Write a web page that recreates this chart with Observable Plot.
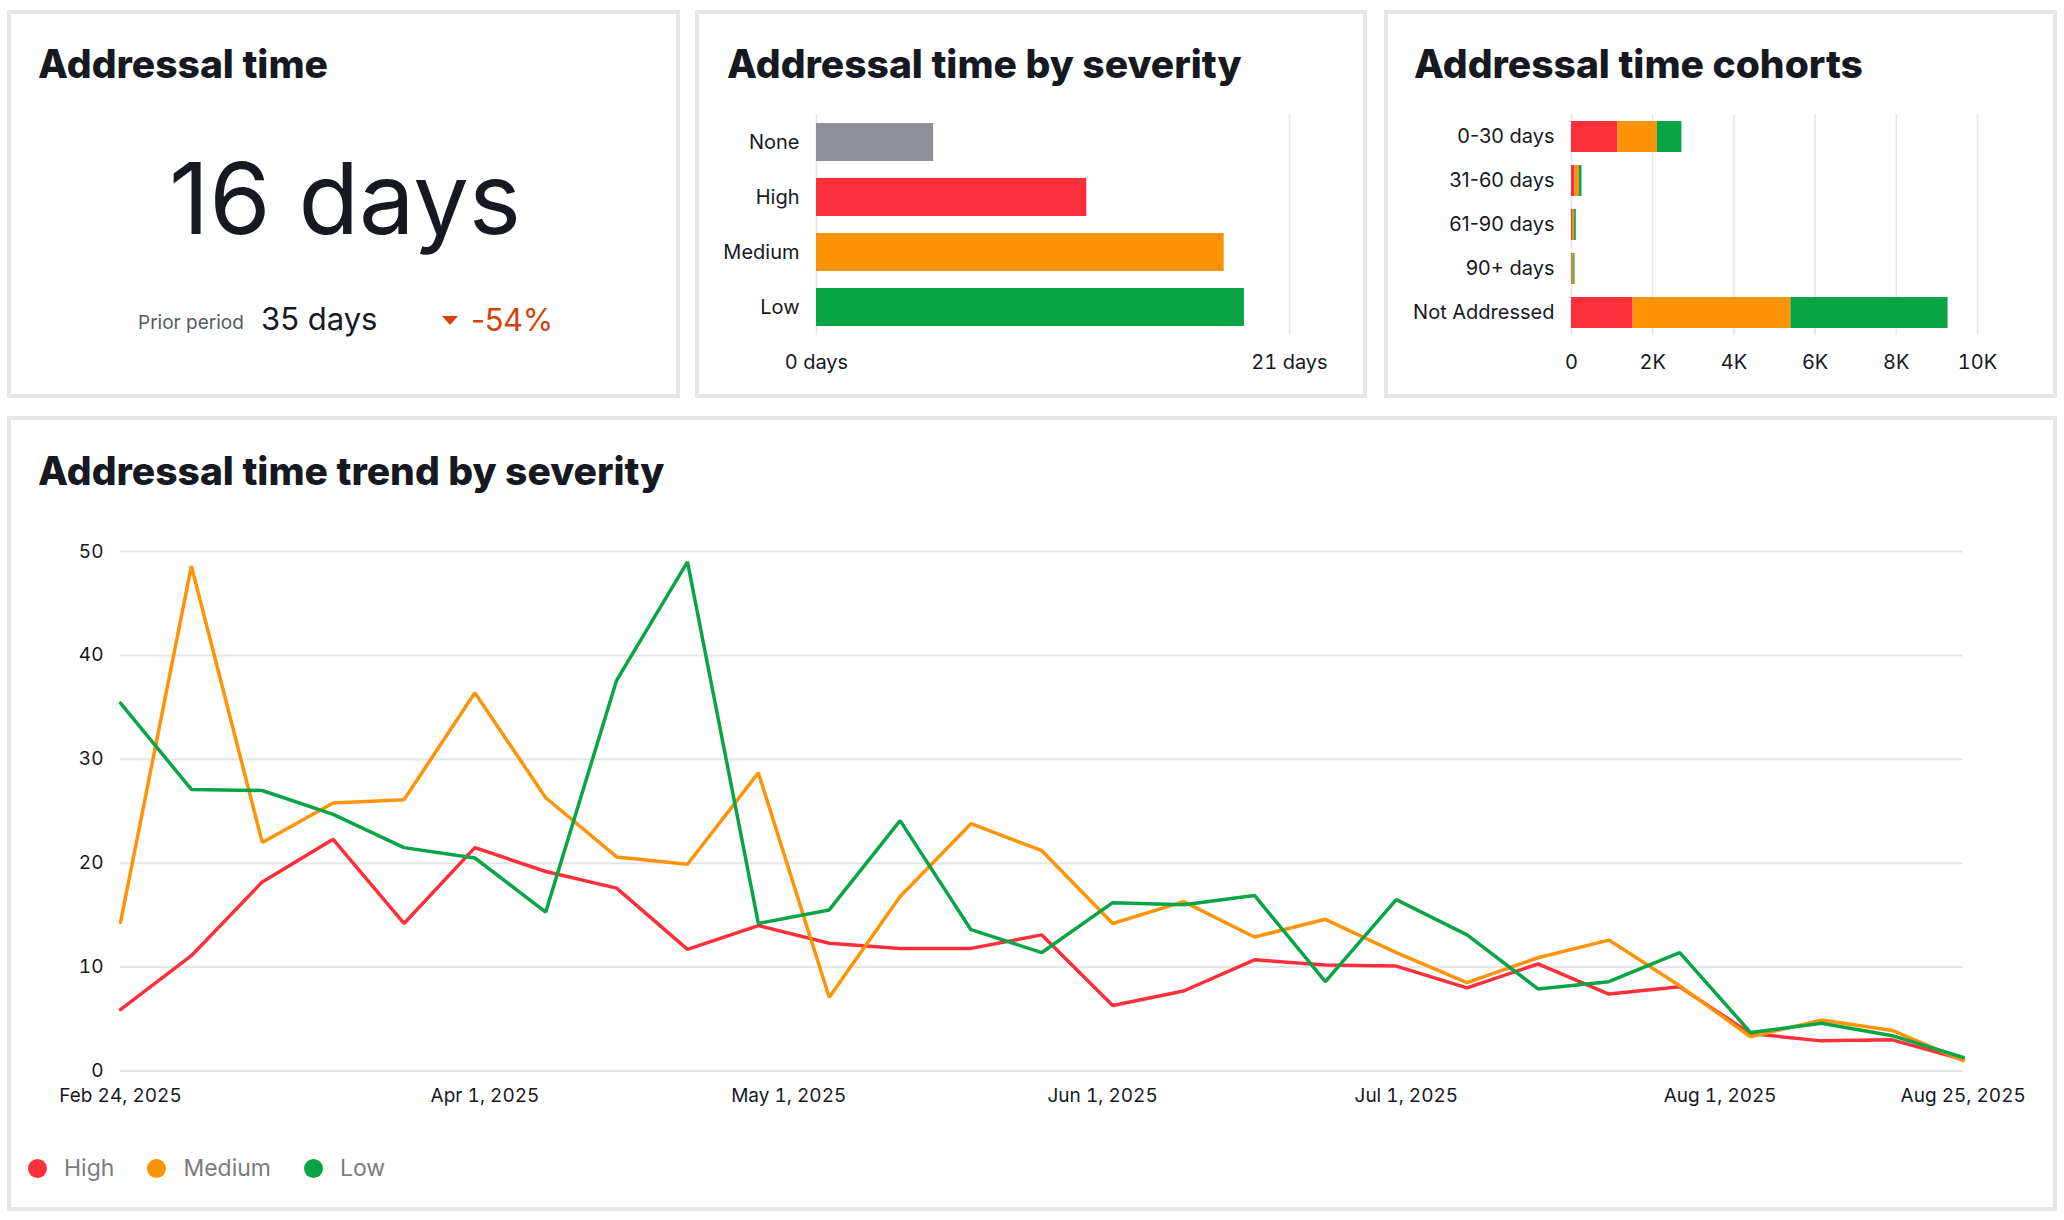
<!DOCTYPE html>
<html><head><meta charset="utf-8">
<script src="https://cdn.jsdelivr.net/npm/d3@7"></script>
<script src="https://cdn.jsdelivr.net/npm/@observablehq/plot@0.6"></script>
<style>
html,body{margin:0;padding:0;background:#fff;}
body{width:2064px;height:1220px;position:relative;overflow:hidden;font-family:Inter,"Noto Sans",sans-serif;color:#16191f;}
.panel{position:absolute;box-sizing:border-box;border:4px solid #e6e6e6;background:#fff;}
.abs{position:absolute;white-space:nowrap;line-height:1;}
.title{font-weight:800;font-size:39px;letter-spacing:0px;color:#16191f;}
.plot{position:absolute;}
.legend{position:absolute;left:28px;top:1154px;height:28px;display:flex;align-items:center;font-size:23px;color:#7b7b7b;}
.legend .dot{width:19px;height:19px;border-radius:50%;margin-right:17px;}
.legend .lab{margin-right:33px;}
</style></head><body>
<div class="panel" style="left:7px;top:10px;width:673px;height:388px;"></div>
<div class="panel" style="left:695px;top:10px;width:672px;height:388px;"></div>
<div class="panel" style="left:1384px;top:10px;width:673px;height:388px;"></div>
<div class="panel" style="left:7px;top:416px;width:2050px;height:795px;"></div>

<div class="abs title" style="left:38px;top:44px;">Addressal time</div>
<div class="abs title" style="left:727px;top:44px;">Addressal time by severity</div>
<div class="abs title" style="left:1414px;top:44px;">Addressal time cohorts</div>
<div class="abs title" style="left:38px;top:451px;">Addressal time trend by severity</div>

<div class="abs" id="kpi" style="left:345px;top:149px;font-size:99px;transform:translateX(-50%);color:#16191f;"></div>
<div class="abs" style="left:138px;top:313px;font-size:19px;color:#545b64;">Prior period</div>
<div class="abs" id="prior" style="left:261px;top:303px;font-size:31px;color:#16191f;"></div>
<svg class="abs" style="left:442px;top:316px;" width="16" height="9"><polygon points="0,0 16,0 8,9" fill="#d4410b"/></svg>
<div class="abs" id="change" style="left:471px;top:304px;font-size:31px;color:#d4410b;letter-spacing:-0.5px;"></div>

<div class="plot" id="p2" style="left:695px;top:100px;"></div>
<div class="plot" id="p3" style="left:1384px;top:100px;"></div>
<div class="plot" id="p4" style="left:7px;top:500px;"></div>
<div class="legend" id="legend"></div>

<script>
// KPI
const kpiValue = "16 days";
const priorValue = "35 days";
const changeValue = "-54%";

// Addressal time by severity (days)
const severities = ["None", "High", "Medium", "Low"];
const severityDays = [5.2, 12.0, 18.1, 19.0];
const severityTicks = [0, 21];

// Addressal time cohorts (counts)
const cohorts = ["0-30 days", "31-60 days", "61-90 days", "90+ days", "Not Addressed"];
const cohortHigh = [1140, 86, 40, 20, 1515];
const cohortMedium = [975, 107, 35, 34, 3890];
const cohortLow = [605, 65, 43, 32, 3870];
const cohortTicks = [0, 2000, 4000, 6000, 8000, 10000];

// Trend by severity (weekly, days)
const weeks = ["2025-02-24","2025-03-03","2025-03-10","2025-03-17","2025-03-24","2025-03-31","2025-04-07",
  "2025-04-14","2025-04-21","2025-04-28","2025-05-05","2025-05-12","2025-05-19","2025-05-26","2025-06-02",
  "2025-06-09","2025-06-16","2025-06-23","2025-06-30","2025-07-07","2025-07-14","2025-07-21","2025-07-28",
  "2025-08-04","2025-08-11","2025-08-18","2025-08-25"];
const trendHigh = [5.9, 11.1, 18.2, 22.3, 14.2, 21.5, 19.2, 17.6, 11.7, 14.0, 12.3, 11.8, 11.8, 13.1, 6.3, 7.7, 10.7, 10.2, 10.1, 8.0, 10.3, 7.4, 8.1, 3.6, 2.9, 3.0, 1.1];
const trendMedium = [14.3, 48.6, 22.0, 25.8, 26.1, 36.4, 26.3, 20.6, 19.9, 28.7, 7.1, 16.8, 23.8, 21.2, 14.2, 16.3, 12.9, 14.6, 11.4, 8.5, 10.9, 12.6, 8.2, 3.3, 4.9, 3.9, 1.0];
const trendLow = [35.4, 27.1, 27.0, 24.7, 21.5, 20.5, 15.3, 37.6, 49.0, 14.2, 15.5, 24.1, 13.6, 11.4, 16.2, 16.0, 16.9, 8.6, 16.5, 13.1, 7.9, 8.6, 11.4, 3.7, 4.6, 3.4, 1.3];
const trendTicks = ["2025-02-24","2025-04-01","2025-05-01","2025-06-01","2025-07-01","2025-08-01","2025-08-25"];
const trendYTicks = [0, 10, 20, 30, 40, 50];
const seriesNames = ["High", "Medium", "Low"];

// styles
const sevColors = ["#8e8f94", "#fc2f3b", "#fd9408", "#08a544"];
const seriesColors = ["#fc2f3b", "#fd9408", "#08a544"];
const gridColor = "#e6e6e6";
const baseStyle = {fontFamily: "Inter, 'Noto Sans', sans-serif", color: "#16191f", background: "transparent", overflow: "visible"};

document.getElementById("kpi").textContent = kpiValue;
document.getElementById("prior").textContent = priorValue;
document.getElementById("change").textContent = changeValue;

// Panel 2
const sevData = severities.map((s, i) => ({severity: s, days: severityDays[i]}));
const p2 = Plot.plot({
  width: 672, height: 290, marginTop: 14, marginBottom: 55, marginLeft: 121, marginRight: 78,
  style: {...baseStyle, fontSize: "20px"},
  x: {domain: [0, 21], ticks: severityTicks, tickFormat: d => d + " days", tickSize: 0, tickPadding: 19, label: null},
  y: {domain: severities, paddingInner: 0.314, paddingOuter: 0.152, tickSize: 0, tickPadding: 17, label: null},
  color: {domain: severities, range: sevColors},
  marks: [
    Plot.gridX(severityTicks, {stroke: gridColor, strokeOpacity: 1, strokeWidth: 1.5}),
    Plot.barX(sevData, {x: "days", y: "severity", fill: "severity"})
  ]
});
document.getElementById("p2").appendChild(p2);

// Panel 3
const cohortData = [];
cohorts.forEach((c, i) => {
  cohortData.push({cohort: c, severity: "High", count: cohortHigh[i]});
  cohortData.push({cohort: c, severity: "Medium", count: cohortMedium[i]});
  cohortData.push({cohort: c, severity: "Low", count: cohortLow[i]});
});
const p3 = Plot.plot({
  width: 673, height: 290, marginTop: 14, marginBottom: 55, marginLeft: 187, marginRight: 80,
  style: {...baseStyle, fontSize: "20px"},
  x: {domain: [0, 10000], ticks: cohortTicks, tickFormat: d => d === 0 ? "0" : (d / 1000) + "K", tickSize: 0, tickPadding: 19, label: null},
  y: {domain: cohorts, paddingInner: 0.3, paddingOuter: 0.14, tickSize: 0, tickPadding: 17, label: null},
  color: {domain: seriesNames, range: seriesColors},
  marks: [
    Plot.gridX(cohortTicks, {stroke: gridColor, strokeOpacity: 1, strokeWidth: 1.5}),
    Plot.barX(cohortData, {x: "count", y: "cohort", fill: "severity", order: seriesNames})
  ]
});
document.getElementById("p3").appendChild(p3);

// Panel 4
const parse = d3.utcParse("%Y-%m-%d");
const trendData = [];
[trendHigh, trendMedium, trendLow].forEach((arr, si) => {
  arr.forEach((v, i) => trendData.push({date: parse(weeks[i]), value: v, severity: seriesNames[si]}));
});
const p4 = Plot.plot({
  width: 2050, height: 620, marginTop: 51, marginBottom: 49.5, marginLeft: 113, marginRight: 94.3,
  style: {...baseStyle, fontSize: "19px"},
  x: {type: "utc", domain: [parse(weeks[0]), parse(weeks[weeks.length - 1])], ticks: trendTicks.map(parse),
      tickFormat: d3.utcFormat("%b %-d, %Y"), tickSize: 0, tickPadding: 17, label: null},
  y: {domain: [0, 50], ticks: trendYTicks, tickSize: 0, tickPadding: 17, label: null},
  color: {domain: seriesNames, range: seriesColors},
  marks: [
    Plot.gridY(trendYTicks, {stroke: gridColor, strokeOpacity: 1, strokeWidth: 2}),
    Plot.line(trendData, {x: "date", y: "value", z: "severity", stroke: "severity", strokeWidth: 3.5, strokeLinejoin: "miter"})
  ]
});
document.getElementById("p4").appendChild(p4);

// Legend
const legend = document.getElementById("legend");
seriesNames.forEach((n, i) => {
  const dot = document.createElement("span"); dot.className = "dot"; dot.style.background = seriesColors[i];
  const lab = document.createElement("span"); lab.className = "lab"; lab.textContent = n;
  legend.appendChild(dot); legend.appendChild(lab);
});
</script>
</body></html>
